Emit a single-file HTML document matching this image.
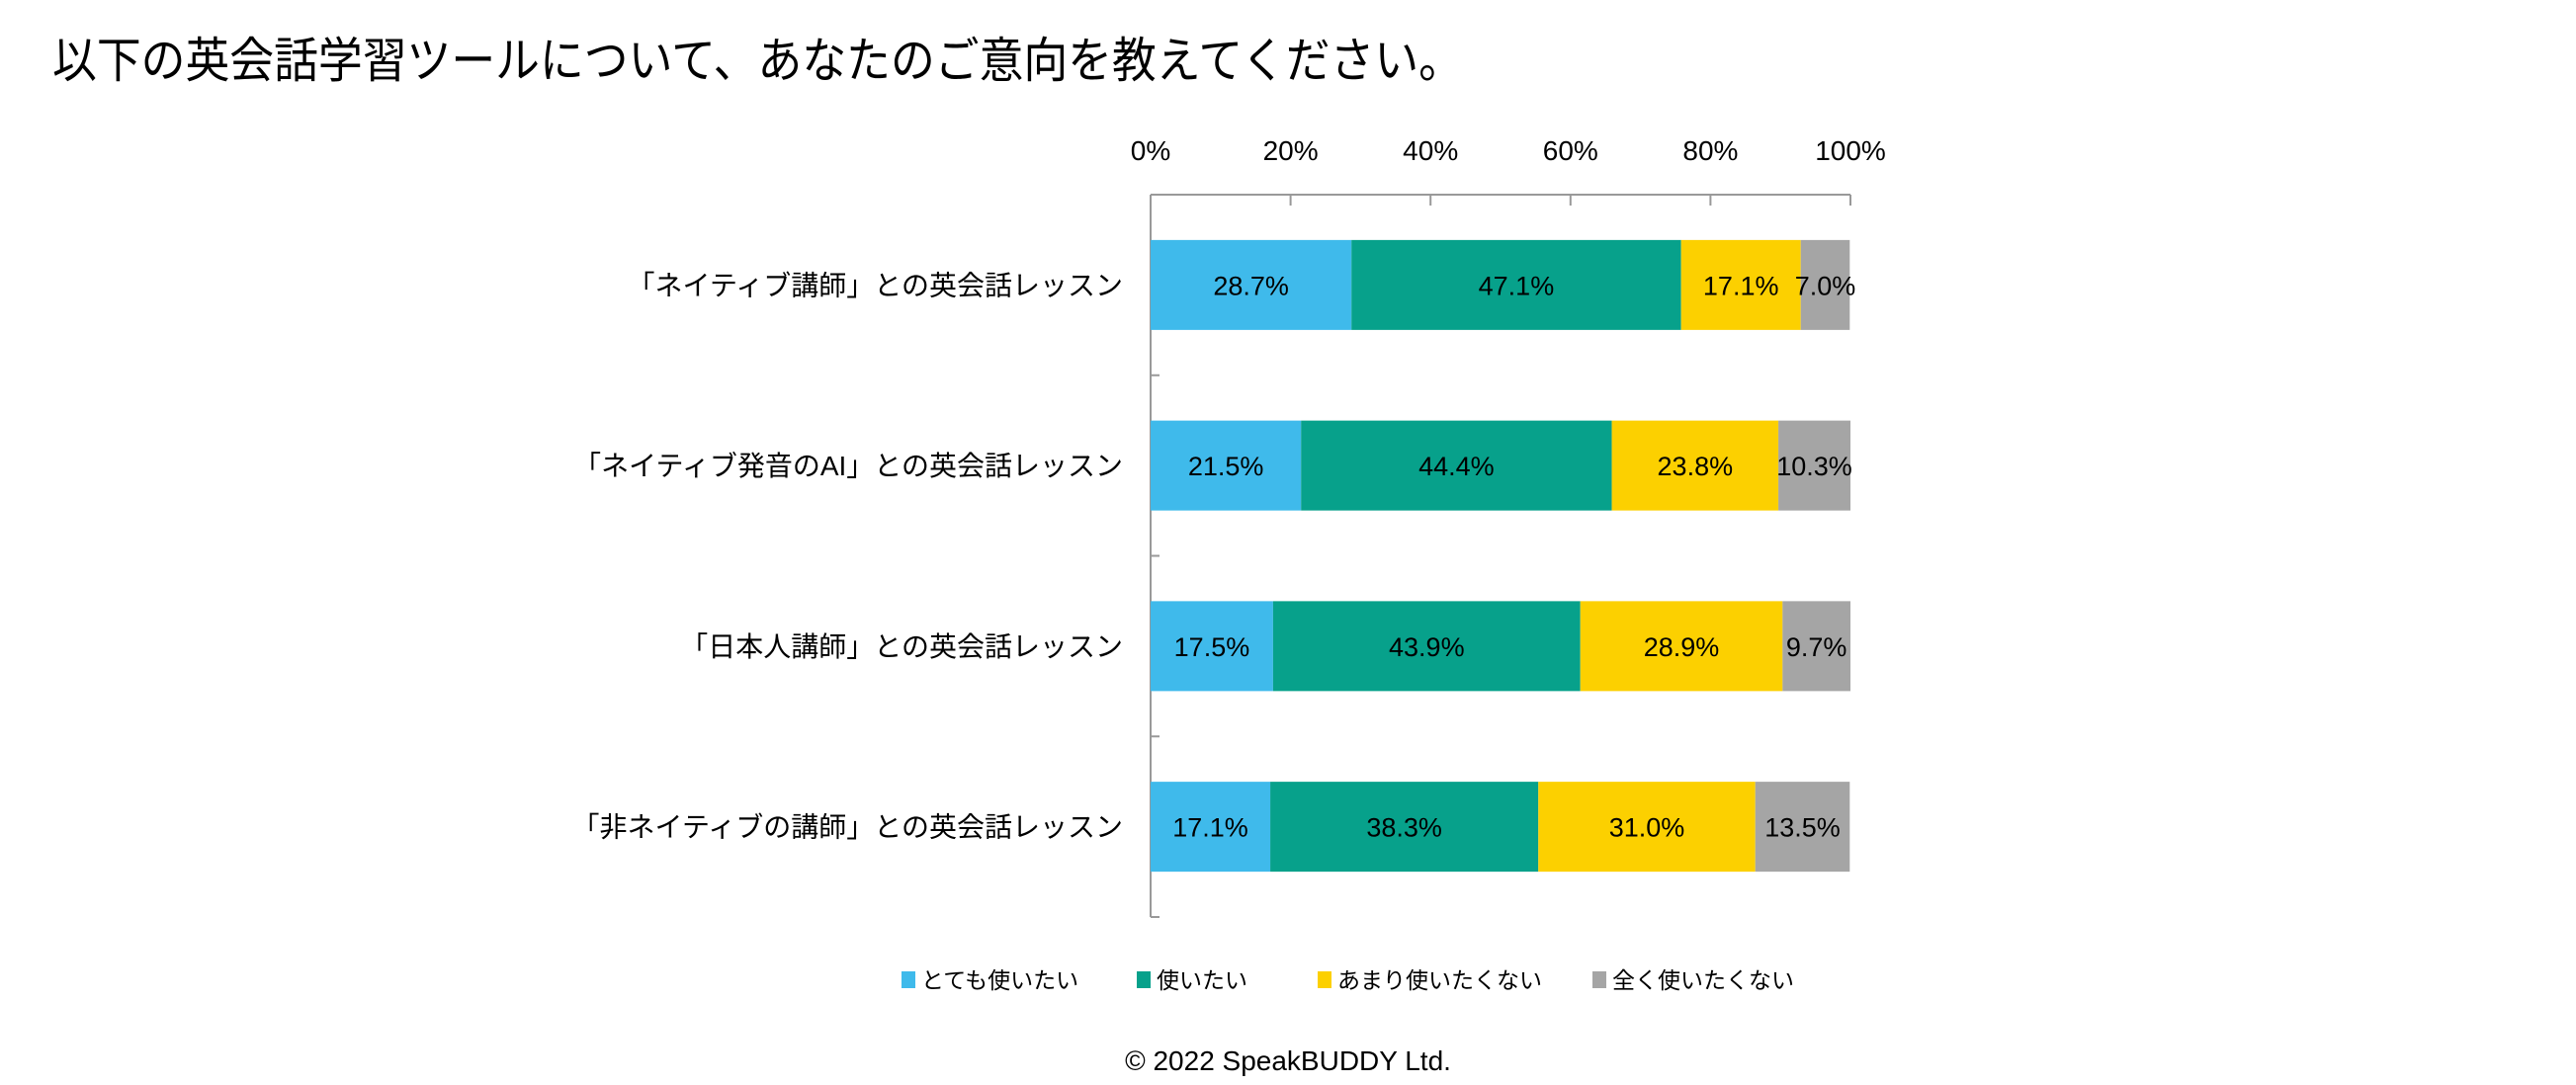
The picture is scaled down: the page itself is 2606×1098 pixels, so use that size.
<!DOCTYPE html>
<html><head><meta charset="utf-8"><style>
html,body{margin:0;padding:0;background:#fff;}
svg{display:block;font-family:"Liberation Sans","Noto Sans CJK JP",sans-serif;}
</style></head><body>
<svg id="chart" width="2606" height="1098" viewBox="0 0 2606 1098">
<text x="53" y="78" font-size="49" fill="#000" textLength="1427" lengthAdjust="spacingAndGlyphs">以下の英会話学習ツールについて、あなたのご意向を教えてください。</text>
<g id="axes"></g><g id="bars"></g><g id="legend"></g>
<text x="1303" y="1083" font-size="28" text-anchor="middle" fill="#000">© 2022 SpeakBUDDY Ltd.</text>
</svg>
<script>
const categories = ["「ネイティブ講師」との英会話レッスン","「ネイティブ発音のAI」との英会話レッスン","「日本人講師」との英会話レッスン","「非ネイティブの講師」との英会話レッスン"];
const seriesNames = ["とても使いたい","使いたい","あまり使いたくない","全く使いたくない"];
const veryWant = [28.7,21.5,17.5,17.1];
const want = [47.1,44.4,43.9,38.3];
const notMuch = [17.1,23.8,28.9,31.0];
const notAtAll = [7.0,10.3,9.7,13.5];
const tickLabels = ["0%","20%","40%","60%","80%","100%"];
const tickValues = [0,20,40,60,80,100];
const colors = ["#3fbaeb","#07a18b","#fcd000","#a5a5a5"];
const series = [veryWant,want,notMuch,notAtAll];

const NS="http://www.w3.org/2000/svg";
const X0=1164,X1=1872,Y0=197,Y1=928;
const band=(Y1-Y0)/categories.length, barH=91;
const xs=v=>X0+(v/100)*(X1-X0);
const yc=i=>Y0+band*(i+0.5);
function mk(tag,attrs,parent){const e=document.createElementNS(NS,tag);for(const k in attrs)e.setAttribute(k,attrs[k]);parent.appendChild(e);return e;}
const axes=document.getElementById('axes'),bars=document.getElementById('bars'),legend=document.getElementById('legend');
let l=mk('line',{x1:X0,y1:Y0,x2:X1,y2:Y0,stroke:'#999','stroke-width':2},axes);


l=mk('line',{x1:X0,y1:Y0,x2:X0,y2:Y1,stroke:'#999','stroke-width':2},axes);


tickValues.forEach((v,i)=>{
  const t=mk('line',{x1:xs(v),y1:Y0,x2:xs(v),y2:Y0+11,stroke:'#999','stroke-width':2},axes);
  
  
  const tx=mk('text',{x:xs(v),y:162,'font-size':28,'text-anchor':'middle',fill:'#000'},axes);
  tx.textContent=tickLabels[i];
  
  
});
for(let i=0;i<=categories.length;i++){
  const y=Y0+band*i;
  const t=mk('line',{x1:X0,y1:y,x2:X0+9,y2:y,stroke:'#999','stroke-width':2},axes);
  
  
}
categories.forEach((c,i)=>{
  const tx=mk('text',{x:1136,y:yc(i)+10,'font-size':28,'text-anchor':'end',fill:'#000'},axes);
  tx.textContent=c;
  
  
  let acc=0;
  series.forEach((s,k)=>{
    const v=s[i];
    const r=mk('rect',{x:xs(acc),y:yc(i)-barH/2,width:xs(acc+v)-xs(acc),height:barH,fill:colors[k]},bars);
    
    
    const lb=mk('text',{x:(xs(acc)+xs(acc+v))/2,y:yc(i)+10,'font-size':27,'text-anchor':'middle',fill:'#000'},bars);
    lb.textContent=v.toFixed(1)+'%';
    
    
    acc+=v;
  });
});
const lx=[912,1150,1333,1611];
seriesNames.forEach((n,k)=>{
  const g=mk('g',{},legend);
  
  
  mk('rect',{x:lx[k],y:983,width:14,height:17,fill:colors[k]},g);
  const t=mk('text',{x:lx[k]+20,y:1000,'font-size':23,fill:'#000'},g);
  t.textContent=n;
});
</script>
</body></html>
